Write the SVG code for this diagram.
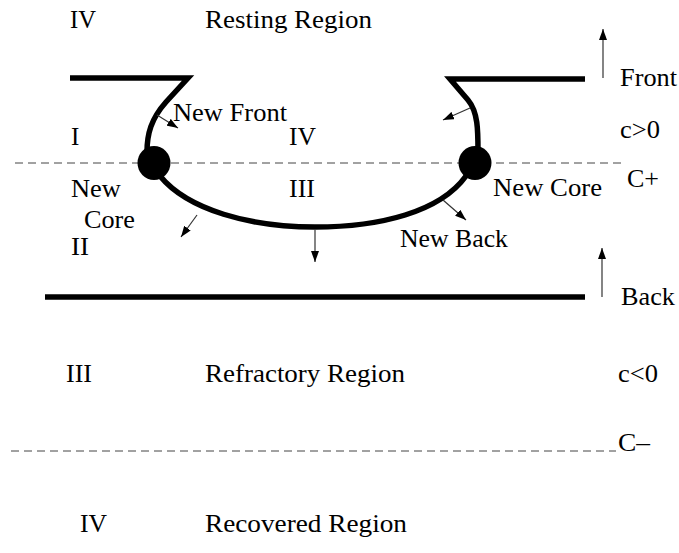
<svg xmlns="http://www.w3.org/2000/svg" width="679" height="553" viewBox="0 0 679 553">
<defs>
<style>
text{font-family:"Liberation Serif","Times New Roman",serif;font-size:25px;fill:#000}
.thick{fill:none;stroke:#000;stroke-width:5.5;stroke-linejoin:miter}
.dash{fill:none;stroke:#444;stroke-width:1;stroke-dasharray:8 5}
.arr{fill:none;stroke:#333;stroke-width:1.2;marker-end:url(#ah)}
</style>
<marker id="ah" markerUnits="userSpaceOnUse" markerWidth="11" markerHeight="8" refX="11" refY="4" orient="auto">
<path d="M0,0 L11,4 L0,8 z" fill="#000"/>
</marker>
</defs>
<rect width="679" height="553" fill="#fff"/>
<g id="levels">
<line class="dash" x1="15" y1="163" x2="622" y2="163"/>
<line class="dash" x1="11" y1="451" x2="616" y2="451"/>
</g>
<g id="wave">
<path class="thick" d="M70,78 H188 L166,102 C151,119 147,134 147,152"/>
<path class="thick" d="M585,79 H450 L468,100 C478,112 478,130 478,152"/>
<path class="thick" d="M160,176 C188,210 250,227 315,227 C380,227 440,212 466,176"/>
<path class="thick" d="M45,297 H585"/>
<ellipse cx="154" cy="163" rx="16.5" ry="17" fill="#000"/>
<ellipse cx="475" cy="163" rx="16.5" ry="17" fill="#000"/>
</g>
<g id="connectors">
<line class="arr" x1="157" y1="115" x2="178" y2="128"/>
<line class="arr" x1="197" y1="215" x2="181" y2="237"/>
<line class="arr" x1="315" y1="230" x2="315" y2="262"/>
<line class="arr" x1="470" y1="108" x2="443" y2="120"/>
<line class="arr" x1="443" y1="200" x2="466" y2="220"/>
<line class="arr" x1="603" y1="78" x2="603" y2="29"/>
<line class="arr" x1="602" y1="297" x2="602" y2="248"/>
</g>
<g id="labels">
<text x="70" y="28" textLength="26" lengthAdjust="spacingAndGlyphs">IV</text>
<text x="205" y="28" textLength="167" lengthAdjust="spacingAndGlyphs">Resting Region</text>
<text x="173" y="121" textLength="114" lengthAdjust="spacingAndGlyphs">New Front</text>
<text x="71" y="145">I</text>
<text x="289" y="145" textLength="27" lengthAdjust="spacingAndGlyphs">IV</text>
<text x="71" y="197" textLength="50" lengthAdjust="spacingAndGlyphs">New</text>
<text x="84" y="228" textLength="51" lengthAdjust="spacingAndGlyphs">Core</text>
<text x="71" y="255" textLength="18" lengthAdjust="spacingAndGlyphs">II</text>
<text x="289" y="197" textLength="26" lengthAdjust="spacingAndGlyphs">III</text>
<text x="493" y="196" textLength="109" lengthAdjust="spacingAndGlyphs">New Core</text>
<text x="400" y="247" textLength="108" lengthAdjust="spacingAndGlyphs">New Back</text>
<text x="620" y="86" textLength="57" lengthAdjust="spacingAndGlyphs">Front</text>
<text x="620" y="138" textLength="40" lengthAdjust="spacingAndGlyphs">c&gt;0</text>
<text x="627" y="187" textLength="32" lengthAdjust="spacingAndGlyphs">C+</text>
<text x="621" y="305" textLength="54" lengthAdjust="spacingAndGlyphs">Back</text>
<text x="66" y="382" textLength="26" lengthAdjust="spacingAndGlyphs">III</text>
<text x="205" y="382" textLength="200" lengthAdjust="spacingAndGlyphs">Refractory Region</text>
<text x="618" y="382" textLength="40" lengthAdjust="spacingAndGlyphs">c&lt;0</text>
<text x="618" y="451" textLength="32" lengthAdjust="spacingAndGlyphs">C–</text>
<text x="80" y="532" textLength="27" lengthAdjust="spacingAndGlyphs">IV</text>
<text x="205" y="532" textLength="202" lengthAdjust="spacingAndGlyphs">Recovered Region</text>
</g>
</svg>
